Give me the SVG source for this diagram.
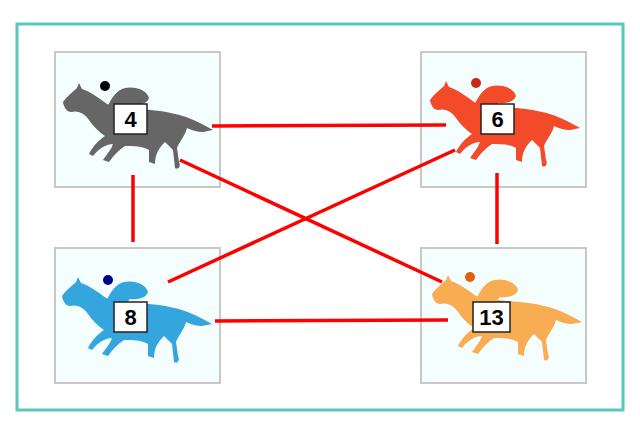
<svg xmlns="http://www.w3.org/2000/svg" width="640" height="427" viewBox="0 0 640 427">
<style>
.box{fill:#f4fefe;stroke:#c8c8c8;stroke-width:2}
.lbl{fill:#fff;stroke:#222;stroke-width:1.5}
.num{font-family:"Liberation Sans",sans-serif;font-weight:bold;font-size:22px;text-anchor:middle;fill:#000}
.c{stroke:#f00;stroke-width:3.5;fill:none}
</style>
<defs>
<symbol id="horse" viewBox="0 0 150 92" width="150" height="92" overflow="visible">
<path d="M0,22 C4,16 10,12 14,8 L16,3 L19,9 C28,12 36,18 44,24 C60,30 90,28 112,34 C122,36 132,40 150,50 L140,52 C134,52 128,50 124,48 C122,56 116,62 114,68 L116,82 C118,86 116,90 112,88 L110,70 C106,66 104,64 102,62 C96,68 92,74 92,84 L86,82 L86,70 C80,66 70,66 62,66 C56,70 50,76 46,82 L40,80 C44,74 48,70 50,64 C44,64 36,68 30,76 L26,74 C30,66 36,60 42,56 C36,52 30,46 26,40 C22,34 16,30 8,32 C4,32 1,28 0,22 Z"/>
<path d="M44,28 C48,18 54,10 62,8 C72,6 84,10 86,18 C84,24 76,26 68,25 L62,32 Z"/>
</symbol>
</defs>
<rect x="17" y="24" width="606" height="386" fill="#fff" stroke="#5ac8b8" stroke-width="3"/>
<g id="n4">
<rect class="box" x="55" y="52" width="165" height="135"/>
<use href="#horse" x="63" y="80" fill="#666"/>
<circle cx="105" cy="86" r="5" fill="#000"/>
<rect class="lbl" x="114" y="104" width="33" height="30"/>
<text class="num" x="130.5" y="127">4</text>
</g>
<g id="n6">
<rect class="box" x="421" y="52" width="165" height="135"/>
<use href="#horse" x="430" y="78" fill="#f34a2a"/>
<circle cx="476" cy="83" r="5" fill="#c82818"/>
<rect class="lbl" x="481" y="104" width="33" height="30"/>
<text class="num" x="497.5" y="127">6</text>
</g>
<g id="n8">
<rect class="box" x="55" y="248" width="165" height="135"/>
<use href="#horse" x="62" y="274" fill="#35a5de"/>
<circle cx="108" cy="280" r="5" fill="#00008b"/>
<rect class="lbl" x="114" y="302" width="33" height="30"/>
<text class="num" x="130.5" y="325">8</text>
</g>
<g id="n13">
<rect class="box" x="421" y="248" width="165" height="135"/>
<use href="#horse" x="432" y="272" fill="#f8ad52"/>
<circle cx="470" cy="277" r="5" fill="#e06010"/>
<rect class="lbl" x="473" y="302" width="37" height="30"/>
<text class="num" x="491.5" y="325">13</text>
</g>
<g id="connectors">
<line class="c" x1="212" y1="126" x2="446" y2="125"/>
<line class="c" x1="133" y1="175" x2="133" y2="242"/>
<line class="c" x1="497" y1="173" x2="497" y2="244"/>
<line class="c" x1="180" y1="160" x2="442" y2="282"/>
<line class="c" x1="168" y1="282" x2="455" y2="150"/>
<line class="c" x1="215" y1="321" x2="448" y2="320"/>
</g>
</svg>
